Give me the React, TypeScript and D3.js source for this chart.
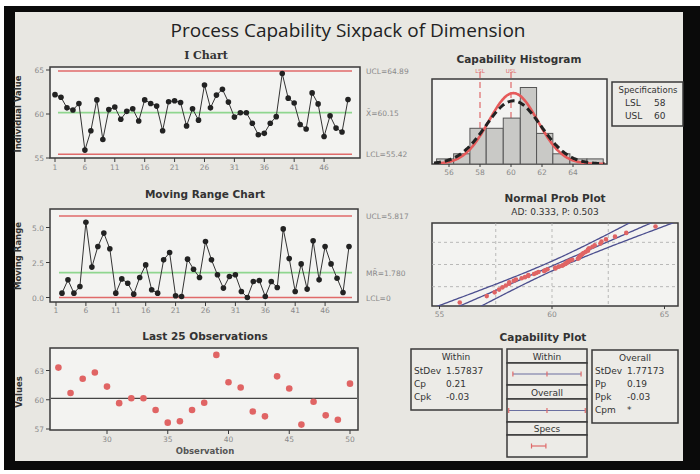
import React from 'react';
import * as d3 from 'd3';

// ---------------- DATA ----------------
const obsNumbers = d3.range(1, 51);
const individualValues = [
  62.2, 61.9, 60.7, 60.45, 61.2, 55.9, 58.1, 61.6, 57.1, 60.5,
  60.8, 59.4, 60.3, 60.6, 59.2, 61.6, 61.2, 60.9, 58.1, 61.4,
  61.5, 61.3, 58.65, 60.6, 59.3, 63.3, 60.7, 62.15, 62.8, 61.35,
  59.65, 60.15, 60.15, 58.95, 57.65, 57.8, 58.95, 59.7, 64.6, 61.8,
  61.25, 58.8, 58.3, 62.4, 61.15, 57.45, 59.8, 58.4, 57.95, 61.65,
];
const mrObs = d3.range(2, 51);
const movingRanges = [
  0.31, 1.26, 0.31, 0.79, 5.38, 2.17, 3.64, 4.6, 3.48, 0.31,
  1.33, 1.02, 0.24, 1.43, 2.33, 0.55, 0.31, 2.69, 3.21, 0.12,
  0.07, 2.74, 2.02, 1.43, 4.0, 2.69, 1.62, 0.67, 1.5, 1.62,
  0.43, 0.0, 1.14, 1.21, 0.07, 1.14, 0.71, 4.9, 2.79, 0.43,
  2.4, 0.6, 4.05, 1.26, 3.64, 2.4, 1.38, 0.36, 3.64,
];
const iLimits = { ucl: 64.89, center: 60.15, lcl: 55.42 };
const iLimitLabels = ['UCL=64.89', 'X\u0304=60.15', 'LCL=55.42'];
const mrLimits = { ucl: 5.817, center: 1.78, lcl: 0 };
const mrLimitLabels = ['UCL=5.817', 'MR\u0304=1.780', 'LCL=0'];
const iTicksX = [1, 6, 11, 16, 21, 26, 31, 36, 41, 46];
const iTicksY = [55, 60, 65];
const mrTicksY = [0, 2.5, 5];
const lastTicksX = [30, 35, 40, 45, 50];
const lastTicksY = [57, 60, 63];

const binEdges = [55.2, 56.3, 57.35, 58.4, 59.5, 60.6, 61.65, 62.7, 63.8, 64.9, 65.95];
const binCounts = [1, 2, 7, 7, 9, 15, 6, 2, 1, 1];
const histTicks = [56, 58, 60, 62, 64];
const LSL = 58;
const USL = 60;
const processMean = 60.15;
const stdWithin = 1.57837;
const stdOverall = 1.77173;

const probTicks = [55, 60, 65];
const probGridX = [57.5, 60, 62.5];
const probGridPct = [10, 50, 90];

const withinStats = [['StDev', '1.57837'], ['Cp', '0.21'], ['Cpk', '-0.03']];
const overallStats = [['StDev', '1.77173'], ['Pp', '0.19'], ['Ppk', '-0.03'], ['Cpm', '*']];

// ---------------- HELPERS ----------------
function invNorm(p: number): number {
  const a = [-3.969683028665376e1, 2.209460984245205e2, -2.759285104469687e2, 1.38357751867269e2, -3.066479806614716e1, 2.506628277459239];
  const b = [-5.447609879822406e1, 1.615858368580409e2, -1.556989798598866e2, 6.680131188771972e1, -1.328068155288572e1];
  const c = [-7.784894002430293e-3, -3.223964580411365e-1, -2.400758277161838, -2.549732539343734, 4.374664141464968, 2.938163982698783];
  const d = [7.784695709041462e-3, 3.224671290700398e-1, 2.445134137142996, 3.754408661907416];
  const pl = 0.02425;
  if (p < pl) {
    const q = Math.sqrt(-2 * Math.log(p));
    return (((((c[0] * q + c[1]) * q + c[2]) * q + c[3]) * q + c[4]) * q + c[5]) / ((((d[0] * q + d[1]) * q + d[2]) * q + d[3]) * q + 1);
  }
  if (p <= 1 - pl) {
    const q = p - 0.5, r = q * q;
    return ((((((a[0] * r + a[1]) * r + a[2]) * r + a[3]) * r + a[4]) * r + a[5]) * q) / (((((b[0] * r + b[1]) * r + b[2]) * r + b[3]) * r + b[4]) * r + 1);
  }
  const q = Math.sqrt(-2 * Math.log(1 - p));
  return -(((((c[0] * q + c[1]) * q + c[2]) * q + c[3]) * q + c[4]) * q + c[5]) / ((((d[0] * q + d[1]) * q + d[2]) * q + d[3]) * q + 1);
}
const normPdf = (x: number, m: number, s: number) => Math.exp(-0.5 * ((x - m) / s) ** 2) / (s * Math.sqrt(2 * Math.PI));

const SANS = "'DejaVu Sans', Verdana, sans-serif";
const TICK_COLOR = '#8a8a8a';
const FRAME = '#3a3a3a';
const RED = '#e06a6a';
const GREEN = '#8fd68f';
const PLOT_BG = '#f3f3f1';

const Title = ({ x, y, text, serif = false }: any) => (
  <text x={x} y={y} textAnchor="middle" fontFamily={serif ? "'DejaVu Serif', serif" : SANS} fontWeight="bold" fontSize={serif ? 11 : 10.5} fill="#333">{text}</text>
);
const YLabel = ({ x, y, text }: any) => (
  <text transform={`translate(${x},${y}) rotate(-90)`} textAnchor="middle" fontFamily={SANS} fontWeight="bold" fontSize={8.5} fill="#333">{text}</text>
);

export default function App() {
  // ---- I chart ----
  const ix = d3.scaleLinear().domain([1, 50]).range([55, 348]);
  const iy = d3.scaleLinear().domain([55, 65]).range([158, 70]);
  const iLine = d3.line<number>().x((_, i) => ix(obsNumbers[i])).y((d) => iy(d));

  // ---- MR chart ----
  const mx = d3.scaleLinear().domain([1, 50]).range([56, 349]);
  const my = d3.scaleLinear().domain([0, 5]).range([297.5, 227.5]);
  const mLine = d3.line<number>().x((_, i) => mx(mrObs[i])).y((d) => my(d));

  // ---- Last 25 ----
  const lastObs = obsNumbers.slice(25);
  const lastVals = individualValues.slice(25);
  const lx = d3.scaleLinear().domain([30, 50]).range([107, 350]);
  const ly = d3.scaleLinear().domain([57, 63]).range([429, 370.5]);

  // ---- Histogram ----
  const hx = d3.scaleLinear().domain([58, 60]).range([480, 511]);
  const hy = d3.scaleLinear().domain([0, 1]).range([164, 158.9]);
  const bw = binEdges[1] - binEdges[0];
  const curveXs = d3.range(hx.invert(434), hx.invert(605), 0.05);
  const curveLine = d3.line<number[]>().x((d) => hx(d[0])).y((d) => hy(d[1])).curve(d3.curveBasis);
  const withinCurve = curveXs.map((v) => [v, 50 * bw * normPdf(v, processMean, stdWithin)]);
  const overallCurve = curveXs.map((v) => [v, 50 * bw * normPdf(v, processMean, stdOverall)]);

  // ---- Normal prob plot ----
  const px = d3.scaleLinear().domain([55, 65]).range([439.5, 664.5]);
  const py = d3.scaleLinear().domain([-2.4, 2.4]).range([306, 223]);
  const sorted = [...individualValues].sort((a, b) => a - b);
  const n = sorted.length;
  const probPts = sorted.map((v, i) => ({ v, z: invNorm((i + 1 - 0.3) / (n + 0.4)) }));
  const zs = d3.range(-2.6, 2.61, 0.05);
  const pLine = d3.line<number[]>().x((d) => px(d[0])).y((d) => py(d[1]));
  const fit = zs.map((z) => [processMean + stdOverall * z, z]);
  const band = (sgn: number) =>
    zs.map((z) => [processMean + stdOverall * z + sgn * 1.96 * stdOverall * Math.sqrt((1 + (z * z) / 2) / n), z]);

  // ---- Capability plot ----
  const cx = d3.scaleLinear().domain([55, 65]).range([509.9, 581.9]);
  const capRows = [
    { label: 'Within', lo: processMean - 3 * stdWithin, hi: processMean + 3 * stdWithin, mid: processMean, y0: 349, hdrH: 14, boxH: 22 },
    { label: 'Overall', lo: processMean - 3 * stdOverall, hi: processMean + 3 * stdOverall, mid: processMean, y0: 385, hdrH: 14, boxH: 23 },
    { label: 'Specs', lo: LSL, hi: USL, mid: null as any, y0: 422, hdrH: 13, boxH: 22 },
  ];

  const tickText = (props: any, t: string) => (
    <text fontFamily={SANS} fontSize={7.5} fill={TICK_COLOR} {...props}>{t}</text>
  );

  return (
    <svg width={700} height={474} style={{ position: 'absolute', left: 0, top: 0 }}>
      <defs>
        <clipPath id="probClip"><rect x={432} y={223} width={246} height={83} /></clipPath>
        <clipPath id="histClip"><rect x={432} y={79} width={175} height={85} /></clipPath>
      </defs>
      <rect x={0} y={0} width={700} height={474} fill="#ffffff" />
      <rect x={4} y={6} width={696} height={464} fill="#0a0a0a" />
      <rect x={15} y={12} width={668} height={449} fill="#e8e7e2" />

      <text x={348} y={37} textAnchor="middle" fontFamily="'Open Sans', 'Noto Sans', sans-serif" fontSize={19} fill="#222">Process Capability Sixpack of Dimension</text>

      {/* ---------- I Chart ---------- */}
      <Title x={206} y={59} text="I Chart" serif />
      <rect x={50} y={67} width={310} height={91} fill={PLOT_BG} stroke={FRAME} strokeWidth={1.5} />
      <YLabel x={21} y={114} text="Individual Value" />
      {iTicksY.map((t) => (
        <g key={t}>
          <line x1={46} x2={50} y1={iy(t)} y2={iy(t)} stroke={FRAME} />
          {tickText({ x: 44, y: iy(t) + 3, textAnchor: 'end' }, String(t))}
        </g>
      ))}
      {iTicksX.map((t) => (
        <g key={t}>
          <line x1={ix(t)} x2={ix(t)} y1={158} y2={162} stroke={FRAME} />
          {tickText({ x: ix(t), y: 170, textAnchor: 'middle' }, String(t))}
        </g>
      ))}
      <line x1={ix(1) + 3} x2={ix(50) + 4} y1={iy(iLimits.ucl)} y2={iy(iLimits.ucl)} stroke={RED} strokeWidth={1.5} />
      <line x1={ix(1) + 3} x2={ix(50) + 4} y1={iy(iLimits.lcl)} y2={iy(iLimits.lcl)} stroke={RED} strokeWidth={1.5} />
      <line x1={ix(1) + 3} x2={ix(50) + 4} y1={iy(iLimits.center)} y2={iy(iLimits.center)} stroke={GREEN} strokeWidth={1.8} />
      <path d={iLine(individualValues) || ''} fill="none" stroke="#333" strokeWidth={1} />
      {individualValues.map((v, i) => (
        <circle key={i} cx={ix(obsNumbers[i])} cy={iy(v)} r={2.8} fill="#222" />
      ))}
      {tickText({ x: 366, y: iy(iLimits.ucl) + 3 }, iLimitLabels[0])}
      {tickText({ x: 366, y: iy(iLimits.center) + 3 }, iLimitLabels[1])}
      {tickText({ x: 366, y: iy(iLimits.lcl) + 3 }, iLimitLabels[2])}

      {/* ---------- MR Chart ---------- */}
      <Title x={205} y={198} text="Moving Range Chart" />
      <rect x={50} y={209} width={308} height={93} fill={PLOT_BG} stroke={FRAME} strokeWidth={1.5} />
      <YLabel x={21} y={256} text="Moving Range" />
      {mrTicksY.map((t) => (
        <g key={t}>
          <line x1={46} x2={50} y1={my(t)} y2={my(t)} stroke={FRAME} />
          {tickText({ x: 44, y: my(t) + 3, textAnchor: 'end' }, t.toFixed(1))}
        </g>
      ))}
      {iTicksX.map((t) => (
        <g key={t}>
          <line x1={mx(t)} x2={mx(t)} y1={302} y2={306} stroke={FRAME} />
          {tickText({ x: mx(t), y: 313, textAnchor: 'middle' }, String(t))}
        </g>
      ))}
      <line x1={mx(1) + 3} x2={mx(50) + 3} y1={my(mrLimits.ucl)} y2={my(mrLimits.ucl)} stroke={RED} strokeWidth={1.5} />
      <line x1={mx(1) + 3} x2={mx(50) + 3} y1={my(mrLimits.lcl)} y2={my(mrLimits.lcl)} stroke={RED} strokeWidth={1.5} />
      <line x1={mx(1) + 3} x2={mx(50) + 3} y1={my(mrLimits.center)} y2={my(mrLimits.center)} stroke={GREEN} strokeWidth={1.8} />
      <path d={mLine(movingRanges) || ''} fill="none" stroke="#333" strokeWidth={1} />
      {movingRanges.map((v, i) => (
        <circle key={i} cx={mx(mrObs[i])} cy={my(v)} r={2.8} fill="#222" />
      ))}
      {tickText({ x: 366, y: my(mrLimits.ucl) + 3 }, mrLimitLabels[0])}
      {tickText({ x: 366, y: my(mrLimits.center) + 3 }, mrLimitLabels[1])}
      {tickText({ x: 366, y: my(mrLimits.lcl) + 3 }, mrLimitLabels[2])}

      {/* ---------- Last 25 ---------- */}
      <Title x={205} y={340} text="Last 25 Observations" />
      <rect x={50} y={348} width={308} height={82} fill={PLOT_BG} stroke={FRAME} strokeWidth={1.5} />
      <YLabel x={22} y={392} text="Values" />
      {lastTicksY.map((t) => (
        <g key={t}>
          <line x1={46} x2={50} y1={ly(t)} y2={ly(t)} stroke={FRAME} />
          {tickText({ x: 44, y: ly(t) + 3, textAnchor: 'end' }, String(t))}
        </g>
      ))}
      {lastTicksX.map((t) => (
        <g key={t}>
          <line x1={lx(t)} x2={lx(t)} y1={430} y2={434} stroke={FRAME} />
          {tickText({ x: lx(t), y: 442, textAnchor: 'middle' }, String(t))}
        </g>
      ))}
      <text x={205} y={454} textAnchor="middle" fontFamily={SANS} fontWeight="bold" fontSize={8.5} fill="#555">Observation</text>
      <line x1={51} x2={357} y1={ly(processMean)} y2={ly(processMean)} stroke="#444" strokeWidth={1.2} />
      {lastVals.map((v, i) => (
        <circle key={i} cx={lx(lastObs[i])} cy={ly(v)} r={3.3} fill="#e06464" />
      ))}

      {/* ---------- Capability Histogram ---------- */}
      <Title x={519} y={63} text="Capability Histogram" />
      <rect x={432} y={79} width={175} height={85} fill={PLOT_BG} stroke={FRAME} strokeWidth={1.5} />
      {[LSL, USL].map((s, i) => (
        <g key={s}>
          <line x1={hx(s)} x2={hx(s)} y1={72} y2={164} stroke={RED} strokeWidth={1.2} strokeDasharray="6,4" />
          <text x={hx(s)} y={73} textAnchor="middle" fontFamily={SANS} fontSize={5.5} fill={RED}>{i === 0 ? 'LSL' : 'USL'}</text>
        </g>
      ))}
      <g clipPath="url(#histClip)">
        {binCounts.map((c, i) => (
          <rect key={i} x={hx(binEdges[i])} y={hy(c)} width={hx(binEdges[i + 1]) - hx(binEdges[i])} height={hy(0) - hy(c)} fill="#c9c9c6" stroke="#555" strokeWidth={1} />
        ))}
        <path d={curveLine(withinCurve as any) || ''} fill="none" stroke="#e65a5a" strokeWidth={2.6} />
        <path d={curveLine(overallCurve as any) || ''} fill="none" stroke="#222" strokeWidth={3} strokeDasharray="7,4" />
      </g>
      {histTicks.map((t) => (
        <g key={t}>
          <line x1={hx(t)} x2={hx(t)} y1={164} y2={167} stroke={FRAME} />
          {tickText({ x: hx(t), y: 175, textAnchor: 'middle' }, String(t))}
        </g>
      ))}
      <rect x={612} y={82} width={71} height={44} fill="#ecebe7" stroke={FRAME} strokeWidth={1.5} />
      <text x={648} y={93} textAnchor="middle" fontFamily={SANS} fontSize={8.5} fill="#333">Specifications</text>
      <text x={625} y={106} fontFamily={SANS} fontSize={9} fill="#333">LSL</text>
      <text x={654} y={106} fontFamily={SANS} fontSize={9} fill="#333">58</text>
      <text x={625} y={119} fontFamily={SANS} fontSize={9} fill="#333">USL</text>
      <text x={654} y={119} fontFamily={SANS} fontSize={9} fill="#333">60</text>

      {/* ---------- Normal Prob Plot ---------- */}
      <Title x={555} y={202} text="Normal Prob Plot" />
      <text x={555} y={215} textAnchor="middle" fontFamily={SANS} fontSize={9} fill="#333">AD: 0.333, P: 0.503</text>
      <rect x={432} y={223} width={246} height={83} fill={PLOT_BG} stroke={FRAME} strokeWidth={1.5} />
      <g clipPath="url(#probClip)">
        {probGridX.map((g) => (
          <line key={g} x1={px(g)} x2={px(g)} y1={223} y2={306} stroke="#aaa" strokeDasharray="3,3" strokeWidth={0.8} />
        ))}
        {probGridPct.map((g) => (
          <line key={g} x1={432} x2={678} y1={py(invNorm(g / 100))} y2={py(invNorm(g / 100))} stroke="#aaa" strokeDasharray="3,3" strokeWidth={0.8} />
        ))}
        <path d={pLine(band(-1) as any) || ''} fill="none" stroke="#4c4f8f" strokeWidth={1.3} />
        <path d={pLine(band(1) as any) || ''} fill="none" stroke="#4c4f8f" strokeWidth={1.3} />
        <path d={pLine(fit as any) || ''} fill="none" stroke="#4c4f8f" strokeWidth={1.3} />
        {probPts.map((p, i) => (
          <circle key={i} cx={px(p.v)} cy={py(p.z)} r={2.3} fill="#e06464" />
        ))}
      </g>
      {probTicks.map((t) => (
        <g key={t}>
          <line x1={px(t)} x2={px(t)} y1={306} y2={309} stroke={FRAME} />
          {tickText({ x: px(t), y: 317, textAnchor: 'middle' }, String(t))}
        </g>
      ))}

      {/* ---------- Capability Plot ---------- */}
      <Title x={543} y={341} text="Capability Plot" />
      <rect x={411} y={349} width={91} height={61} fill="#ecebe7" stroke={FRAME} strokeWidth={1.5} />
      <text x={456} y={360} textAnchor="middle" fontFamily={SANS} fontSize={9} fill="#333">Within</text>
      {withinStats.map((r, i) => (
        <g key={r[0]}>
          <text x={414} y={374 + i * 13} fontFamily={SANS} fontSize={9} fill="#333">{r[0]}</text>
          <text x={446} y={374 + i * 13} fontFamily={SANS} fontSize={9} fill="#333">{r[1]}</text>
        </g>
      ))}
      {capRows.map((r) => (
        <g key={r.label}>
          <rect x={507} y={r.y0} width={80} height={r.hdrH} fill="#ecebe7" stroke={FRAME} strokeWidth={1.5} />
          <text x={547} y={r.y0 + r.hdrH - 3.5} textAnchor="middle" fontFamily={SANS} fontSize={9} fill="#333">{r.label}</text>
          <rect x={507} y={r.y0 + r.hdrH} width={80} height={r.boxH} fill="#ecebe7" stroke={FRAME} strokeWidth={1.5} />
          <line x1={cx(r.lo)} x2={cx(r.hi)} y1={r.y0 + r.hdrH + r.boxH / 2} y2={r.y0 + r.hdrH + r.boxH / 2} stroke={r.mid === null ? RED : '#6a6fa0'} strokeWidth={1.2} />
          {[r.lo, r.hi, ...(r.mid === null ? [] : [r.mid])].map((v, k) => (
            <line key={k} x1={cx(v)} x2={cx(v)} y1={r.y0 + r.hdrH + r.boxH / 2 - 2.5} y2={r.y0 + r.hdrH + r.boxH / 2 + 2.5} stroke={RED} strokeWidth={1.2} />
          ))}
        </g>
      ))}
      <rect x={592} y={350} width={86} height={73} fill="#ecebe7" stroke={FRAME} strokeWidth={1.5} />
      <text x={635} y={361} textAnchor="middle" fontFamily={SANS} fontSize={9} fill="#333">Overall</text>
      {overallStats.map((r, i) => (
        <g key={r[0]}>
          <text x={595} y={374 + i * 13} fontFamily={SANS} fontSize={9} fill="#333">{r[0]}</text>
          <text x={627} y={374 + i * 13} fontFamily={SANS} fontSize={9} fill="#333">{r[1]}</text>
        </g>
      ))}
    </svg>
  );
}
